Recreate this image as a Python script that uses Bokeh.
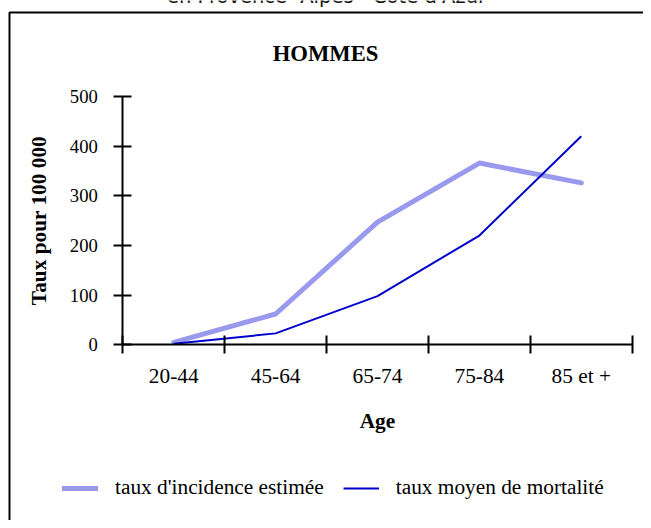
from bokeh.plotting import figure
from bokeh.models import Range1d, FixedTicker, Legend, LegendItem, Label
from bokeh.embed import file_html
from bokeh.resources import INLINE

# ---- data ----
categories = ["20-44", "45-64", "65-74", "75-84", "85 et +"]
incidence = [5, 62, 247, 366, 326]
mortalite = [2, 23, 98, 220, 420]
y_ticks = [0, 100, 200, 300, 400, 500]
title_text = "HOMMES"
top_text = "en Provence- Alpes - Côte d'Azur"
x_label = "Age"
y_label = "Taux pour 100 000"
label_incidence = "taux d'incidence estimée"
label_mortalite = "taux moyen de mortalité"

x_pos = [i + 0.5 for i in range(len(categories))]
boundaries = list(range(len(categories) + 1))

SERIF = "Liberation Serif"

# ---- layout geometry (canvas pixels) ----
W, H = 643, 520
X0_PX, X5_PX = 122.3, 631.7    # where category boundaries 0 and 5 fall
Y0_PX, Y500_PX = 344.3, 96.0   # where values 0 and 500 fall
ncat = len(categories)
kx = (X5_PX - X0_PX) / ncat
ky = (Y0_PX - Y500_PX) / y_ticks[-1]
x_start = -X0_PX / kx
x_end = x_start + W / kx
y_end = y_ticks[-1] + Y500_PX / ky
y_start = y_end - H / ky


def to_x(px):
    return x_start + px / kx


def to_y(py):
    return y_end - py / ky


p = figure(width=W, height=H,
           x_range=Range1d(x_start, x_end), y_range=Range1d(y_start, y_end),
           output_backend="svg", toolbar_location=None,
           min_border=0, min_border_left=0, min_border_right=0,
           min_border_top=0, min_border_bottom=0)

p.background_fill_color = "white"
p.border_fill_color = "white"
p.outline_line_color = None
p.xgrid.grid_line_color = None
p.ygrid.grid_line_color = None

# outer chart box (left and top edges visible in the window)
p.line([to_x(9), to_x(9), to_x(700)], [to_y(600), to_y(12), to_y(12)],
       line_color="black", line_width=2)

r1 = p.line(x_pos, incidence, line_color="#9999EE", line_width=5,
            line_join="round", line_cap="round")
r2 = p.line(x_pos, mortalite, line_color="#0000CC", line_width=2,
            line_join="round")

# x axis
xa = p.xaxis[0]
xa.fixed_location = 0
xa.bounds = (0, ncat)
xa.ticker = FixedTicker(ticks=x_pos, minor_ticks=boundaries)
xa.major_label_overrides = {x: c for x, c in zip(x_pos, categories)}
xa.major_tick_in = 0
xa.major_tick_out = 0
xa.minor_tick_in = 9
xa.minor_tick_out = 9
xa.minor_tick_line_width = 2
xa.minor_tick_line_color = "black"
xa.axis_line_width = 2
xa.axis_line_color = "black"
xa.major_label_text_font = SERIF
xa.major_label_text_font_size = "16pt"
xa.major_label_text_color = "black"
xa.major_label_standoff = 10
xa.axis_label = x_label
xa.axis_label_text_font = SERIF
xa.axis_label_text_font_style = "bold"
xa.axis_label_text_font_size = "16pt"
xa.axis_label_text_color = "black"
xa.axis_label_standoff = 18

# y axis
ya = p.yaxis[0]
ya.fixed_location = 0
ya.bounds = (0, y_ticks[-1])
ya.ticker = FixedTicker(ticks=y_ticks)
ya.major_tick_in = 9
ya.major_tick_out = 9
ya.major_tick_line_width = 2
ya.major_tick_line_color = "black"
ya.minor_tick_line_color = None
ya.axis_line_width = 2
ya.axis_line_color = "black"
ya.major_label_text_font = SERIF
ya.major_label_text_font_size = "14pt"
ya.major_label_text_color = "black"
ya.major_label_standoff = 16
ya.axis_label = y_label
ya.axis_label_text_font = SERIF
ya.axis_label_text_font_style = "bold"
ya.axis_label_text_font_size = "16pt"
ya.axis_label_text_color = "black"
ya.axis_label_standoff = 16

# titles
p.add_layout(Label(x=to_x(325), y=to_y(53), text=title_text,
                   text_align="center", text_baseline="alphabetic",
                   text_font=SERIF, text_font_style="bold",
                   text_font_size="17pt", text_color="black"))
p.add_layout(Label(x=to_x(326), y=to_y(-4), text=top_text,
                   text_align="center", text_baseline="alphabetic",
                   text_font="DejaVu Sans", text_font_size="19.5px",
                   text_color="#111111"))

legend = Legend(items=[LegendItem(label=label_incidence, renderers=[r1]),
                       LegendItem(label=label_mortalite, renderers=[r2])],
                orientation="horizontal", location=(62, 20),
                glyph_width=36, glyph_height=20, label_standoff=17, spacing=19,
                padding=0, margin=0, border_line_color=None,
                background_fill_alpha=0,
                label_text_font=SERIF, label_text_font_size="16pt",
                label_text_color="black")
p.add_layout(legend, "center")

open("out.html", "w").write(file_html(p, INLINE))
